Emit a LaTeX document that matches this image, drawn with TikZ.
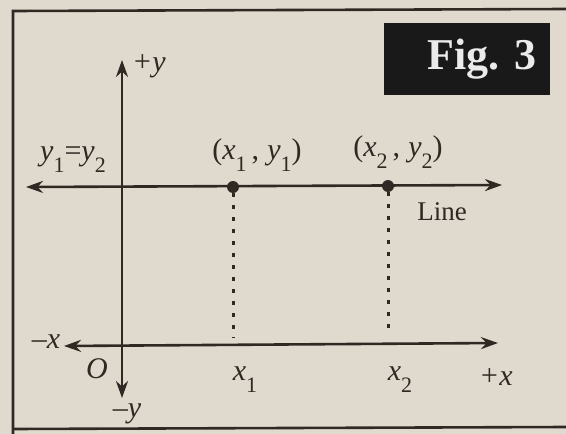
\documentclass[tikz,border=0pt]{standalone}
\usepackage{fontspec}
\setmainfont{Liberation Serif}
\usetikzlibrary{arrows.meta}
\definecolor{paper}{RGB}{224,218,206}
\definecolor{ink}{RGB}{48,40,34}
\newcommand\lowsub[1]{\raisebox{-0.4em}{\fontsize{22}{24}\selectfont\upshape #1}}
\begin{document}
\begin{tikzpicture}[x=1pt,y=-1pt,
  axis/.style={ink,line width=2.6pt,{Stealth[length=17pt,width=12pt]}-{Stealth[length=17pt,width=12pt]}},
  lbl/.style={text=ink,inner sep=0pt,font=\fontsize{30}{34}\selectfont\itshape},
  guide/.style={ink,line width=3pt,dash pattern=on 4pt off 8pt},
  pt/.style={circle,fill=ink,inner sep=0pt,minimum size=12pt}]
\fill[paper] (0,0) rectangle (566,434);
\useasboundingbox (0,0) rectangle (566,434);
% frame
\draw[ink,line width=2.6pt] (566,9) -- (13,11) -- (13,434);
\draw[ink,line width=2.6pt] (13,429) -- (566,427);
% figure tag
\node[fill=black!90,minimum width=166pt,minimum height=72pt,inner sep=0pt] (tag) at (467,59) {};
\node[text=white!92!black,inner sep=0pt,font=\fontsize{44}{46}\selectfont\bfseries] (tagtext) at (482,59) {Fig. 3};
% axes
\coordinate (ytop) at (122,60);
\coordinate (ybot) at (122,398);
\coordinate (xl) at (64,346);
\coordinate (xr) at (498,343);
\draw[ink,line width=2.6pt,-{Stealth[length=17pt,width=12pt]}] (122,347) -- (ytop);
\draw[ink,line width=2.6pt,-{Stealth[length=17pt,width=12pt]}] (122,340) -- (ybot);
\draw[axis] (xl) -- (xr);
% line
\coordinate (ll) at (26,187);
\coordinate (lr) at (502,185);
\draw[axis] (ll) -- (lr);
% points
\node[pt] (p1) at (233,187) {};
\node[pt] (p2) at (388,186) {};
\coordinate (f1) at (233,338);
\coordinate (f2) at (388,336);
\draw[guide] (p1) -- (f1);
\draw[guide] (p2) -- (f2);
% labels
\node[lbl] (py) at (149,66) {+y};
\node[lbl] (my) at (127,414) {\textendash y};
\node[lbl] (mx) at (46,342) {\textendash x};
\node[lbl] (px) at (496,377) {+x};
\node[lbl] (o) at (97,369) {O};
\node[lbl] (x1) at (245,380) {x\lowsub{1}};
\node[lbl] (x2) at (400,380) {x\lowsub{2}};
\node[lbl] (eq) at (73,160) {y\lowsub{1}\textup{=}y\lowsub{2}};
\node[lbl] (c1) at (257,155) {\textup{(}x\lowsub{1}\,\textup{,}\;y\lowsub{1}\textup{)}};
\node[lbl] (c2) at (398,152) {\textup{(}x\lowsub{2}\,\textup{,}\;y\lowsub{2}\textup{)}};
\node[lbl,font=\fontsize{27}{30}\selectfont] (ln) at (442,212) {Line};
\end{tikzpicture}
\end{document}
